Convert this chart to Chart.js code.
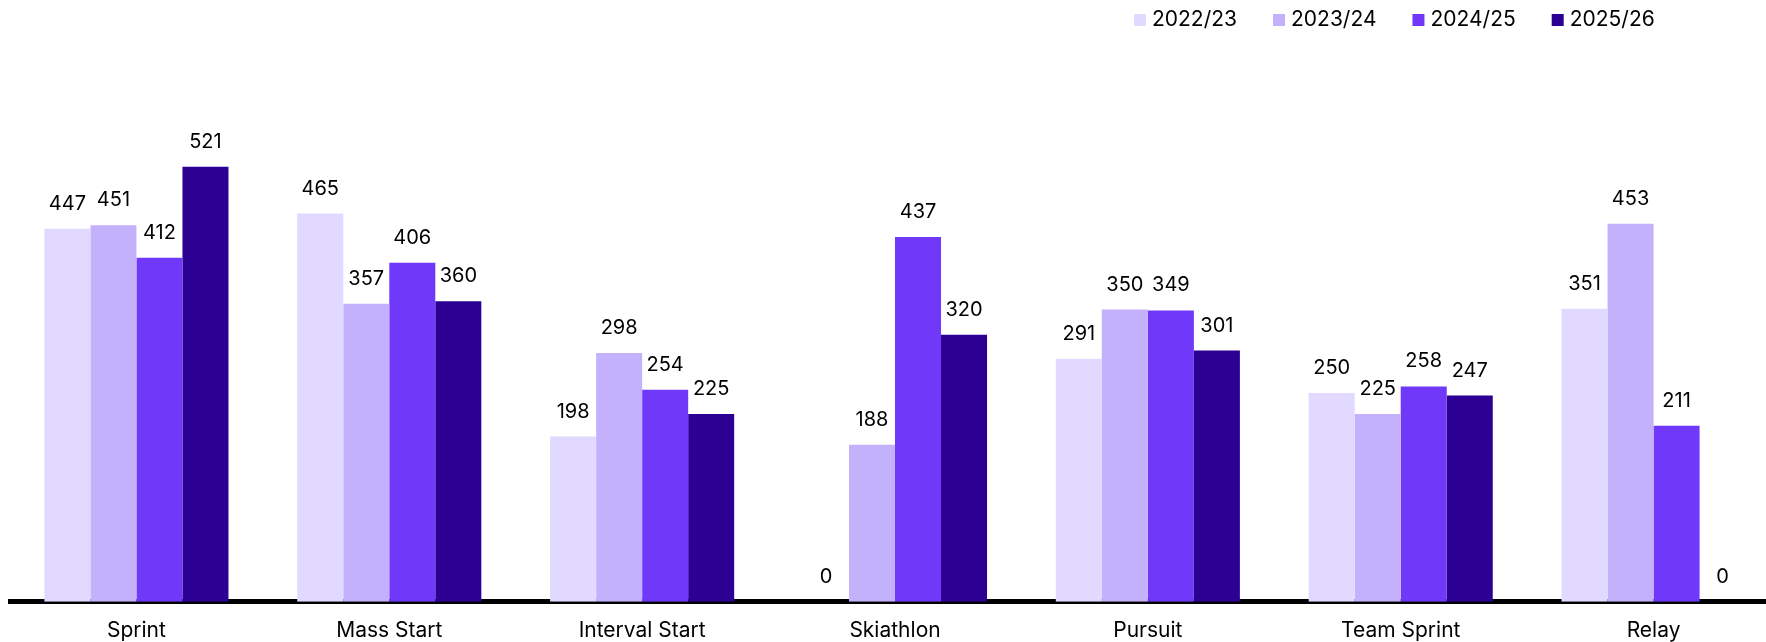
<!DOCTYPE html>
<html>
<head>
<meta charset="utf-8">
<script src="https://cdn.jsdelivr.net/npm/chart.js@4.4.1/dist/chart.umd.min.js"></script>
<style>
  html, body { margin: 0; padding: 0; background: #fff; overflow: hidden; }
  #wrap { width: 1766px; height: 642px; overflow: hidden; }
</style>
</head>
<body>
<div id="wrap"><canvas id="myChart" width="1780" height="659"></canvas></div>
<script>
const categories = ["Sprint", "Mass Start", "Interval Start", "Skiathlon", "Pursuit", "Team Sprint", "Relay"];
const seasons = ["2022/23", "2023/24", "2024/25", "2025/26"];
const season2223 = [447, 465, 198, 0, 291, 250, 351];
const season2324 = [451, 357, 298, 188, 350, 225, 453];
const season2425 = [412, 406, 254, 437, 349, 258, 211];
const season2526 = [521, 360, 225, 320, 301, 247, 0];
const colors = ["#e1d9ff", "#c4b1fc", "#7038f8", "#2d0094"];

const FONT = "Inter, 'Noto Sans', sans-serif";

// value labels above every bar
const valueLabels = {
  id: "valueLabels",
  afterDatasetsDraw(chart) {
    const ctx = chart.ctx;
    ctx.save();
    ctx.font = "20px " + FONT;
    ctx.fillStyle = "#000";
    ctx.textAlign = "center";
    ctx.textBaseline = "alphabetic";
    chart.data.datasets.forEach(function (ds, i) {
      chart.getDatasetMeta(i).data.forEach(function (bar, j) {
        ctx.fillText(String(ds.data[j]), bar.x, bar.y - 19);
      });
    });
    ctx.restore();
  },
};

// legend drawn at the top right like the original
const seasonLegend = {
  id: "seasonLegend",
  afterDraw(chart) {
    const ctx = chart.ctx;
    ctx.save();
    ctx.font = "21px " + FONT;
    ctx.textBaseline = "middle";
    let x = 1134;
    chart.data.datasets.forEach(function (ds) {
      ctx.fillStyle = ds.backgroundColor;
      ctx.fillRect(x, 14, 12, 12);
      ctx.fillStyle = "#000";
      ctx.fillText(ds.label, x + 18, 20);
      x += 18 + ctx.measureText(ds.label).width + 36;
    });
    ctx.restore();
  },
};

const ctx = document.getElementById("myChart");

var chart = new Chart(ctx, {
  type: "bar",
  data: {
    labels: categories,
    datasets: [
      { label: seasons[0], data: season2223, backgroundColor: colors[0] },
      { label: seasons[1], data: season2324, backgroundColor: colors[1] },
      { label: seasons[2], data: season2425, backgroundColor: colors[2] },
      { label: seasons[3], data: season2526, backgroundColor: colors[3] },
    ],
  },
  options: {
    responsive: false,
    animation: false,
    devicePixelRatio: 1,
    layout: { padding: { top: 50, left: 10, right: 0, bottom: 0 } },
    datasets: {
      bar: { barPercentage: 1, categoryPercentage: 0.728, borderWidth: 0 },
    },
    plugins: {
      legend: { display: false },
      tooltip: { enabled: false },
    },
    scales: {
      y: {
        display: false,
        min: 0,
        max: 661,
      },
      x: {
        grid: { display: false, drawTicks: false },
        border: { display: true, color: "#000", width: 5 },
        ticks: {
          color: "#000",
          font: { family: FONT, size: 21 },
          padding: 16,
        },
      },
    },
  },
  plugins: [valueLabels, seasonLegend],
});
</script>
</body>
</html>
